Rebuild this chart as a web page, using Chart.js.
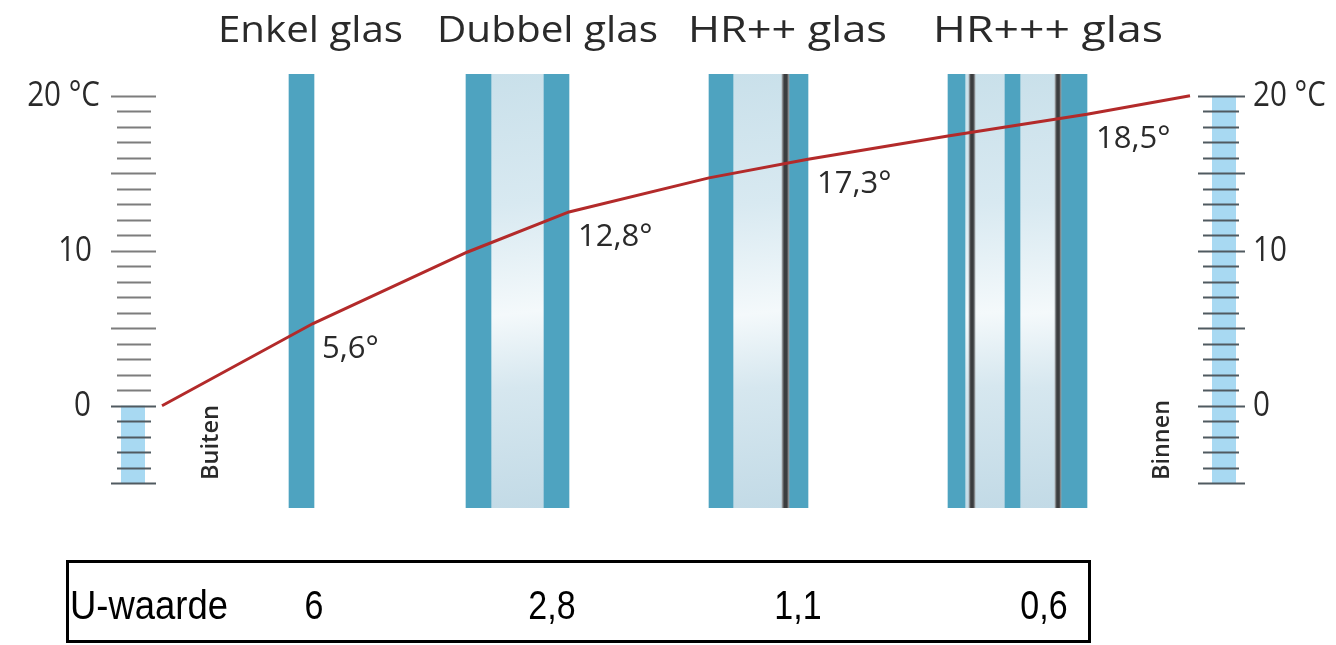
<!DOCTYPE html>
<html>
<head>
<meta charset="utf-8">
<title>Temperatuurverloop door glas</title>
<script src="https://cdn.jsdelivr.net/npm/chart.js@4.4.1/dist/chart.umd.min.js"></script>
<style>
  html, body { margin: 0; padding: 0; background: #fff; overflow: hidden; }
  canvas { display: block; }
</style>
</head>
<body>
<canvas id="glasChart" width="1336" height="645"></canvas>
<script>
/* -------------------------------------------------------
   DATA
------------------------------------------------------- */
const glassTypes   = ['Enkel glas', 'Dubbel glas', 'HR++ glas', 'HR+++ glas'];
const uValues      = ['6', '2,8', '1,1', '0,6'];
const surfaceTemps = [5.6, 12.8, 17.3, 18.5];      // binnenoppervlak, °C
const tempTicks    = [20, 10, 0];

// doorsnede: positie langs de tekening (x-eenheden)
const glassPanes = [[289, 314], [466, 491], [544, 569], [709, 733], [789, 808],
                    [948, 965], [1005, 1020], [1061, 1087]];
const cavities   = [[491, 544], [733, 783], [965, 1005], [1020, 1061]];
const coatings   = [[782, 789], [969, 975], [1055, 1061]];

// temperatuurverloop (buiten 0 °C -> binnen 20 °C)
const curveX = [162, 313, 467, 569, 709, 808, 948, 1087, 1190];
const curveT = [0, 5.3, 9.9, 12.5, 14.7, 15.9, 17.4, 18.8, 20];
const labelledPoints = [1, 3, 5, 7];

/* -------------------------------------------------------
   LAYOUT (text boxes: [left, width, baseline])
------------------------------------------------------- */
const titleBoxes = [[218, 185, 42], [437, 221, 42], [688, 199, 42], [933, 230, 42]];
const uCenters   = [314, 552, 798, 1044];
const leftLabelRight = [100, 92, 91];

const GLASS   = '#4ea3c0';
const THERMO  = '#a8d9f2';
const RED     = '#b32a2a';
const FONT    = "'Open Sans', 'Noto Sans', sans-serif";

function fitText(ctx, text, x, y, font, width, align) {
  ctx.save();
  ctx.font = font;
  ctx.textAlign = align || 'left';
  ctx.textBaseline = 'alphabetic';
  const s = width ? width / ctx.measureText(text).width : 1;
  ctx.translate(x, y);
  ctx.scale(s, 1);
  ctx.fillText(text, 0, 0);
  ctx.restore();
}

function paneData(list) {
  return list.map(([a, b]) => ({ x: [a, b], y: 'doorsnede' }));
}

function cavityFill(c) {
  const chart = c.chart, area = chart.chartArea;
  if (!area || !c.raw) return '#d3e6ee';
  const x = chart.scales.x;
  const x0 = x.getPixelForValue(c.raw.x[0]), x1 = x.getPixelForValue(c.raw.x[1]);
  const g = chart.ctx.createLinearGradient(x0, area.top, x1, area.bottom);
  g.addColorStop(0,    '#c9e0ea');
  g.addColorStop(0.3,  '#d8e9f1');
  g.addColorStop(0.55, '#f4f9fb');
  g.addColorStop(0.72, '#d6e7ef');
  g.addColorStop(1,    '#c2dae6');
  return g;
}

function coatingFill(c) {
  const chart = c.chart;
  if (!chart.chartArea || !c.raw) return '#444';
  const x = chart.scales.x;
  const x0 = x.getPixelForValue(c.raw.x[0]), x1 = x.getPixelForValue(c.raw.x[1]);
  const g = chart.ctx.createLinearGradient(x0, 0, x1, 0);
  g.addColorStop(0,   '#a3a7aa');
  g.addColorStop(0.3, '#3b3d3f');
  g.addColorStop(0.7, '#3b3d3f');
  g.addColorStop(1,   '#9ea3a6');
  return g;
}

/* -------------------------------------------------------
   PLUGIN: thermometers, labels, table
------------------------------------------------------- */
const decorations = {
  id: 'decorations',
  afterDatasetsDraw(chart) {
    const ctx = chart.ctx;
    const y = chart.scales.y, x = chart.scales.x;

    // thermometer scales
    function thermo(major, minor, fill, from, to, tickColor) {
      ctx.save();
      ctx.fillStyle = THERMO;
      ctx.fillRect(fill[0], y.getPixelForValue(to), fill[1] - fill[0],
                   y.getPixelForValue(from) - y.getPixelForValue(to));
      ctx.lineWidth = 2;
      for (let v = -5; v <= 20; v++) {
        const py = Math.round(y.getPixelForValue(v)) + 0.5;
        const r = v % 5 === 0 ? major : minor;
        ctx.strokeStyle = (v >= from && v <= to) ? '#505a60' : tickColor;
        ctx.beginPath();
        ctx.moveTo(r[0], py);
        ctx.lineTo(r[1], py);
        ctx.stroke();
      }
      ctx.restore();
    }
    thermo([111, 156], [117, 151], [121, 145], -5, 0, '#7d7d7d');
    thermo([1198, 1245], [1203, 1239], [1212, 1236], -5, 20, '#505a60');

    ctx.fillStyle = '#2a2a2a';
    tempTicks.forEach((t, i) => {
      const txt = t === 20 ? '20 °C' : String(t);
      const py = y.getPixelForValue(t) + 10;
      ctx.save();
      ctx.font = '34px ' + FONT;
      ctx.textAlign = 'right';
      ctx.translate(leftLabelRight[i], py);
      ctx.scale(0.87, 1);
      ctx.fillText(txt, 0, 0);
      ctx.restore();
      ctx.save();
      ctx.font = '34px ' + FONT;
      ctx.textAlign = 'left';
      ctx.translate(1253, py);
      ctx.scale(0.87, 1);
      ctx.fillText(txt, 0, 0);
      ctx.restore();
    });

    // titles
    glassTypes.forEach((t, i) => {
      const b = titleBoxes[i];
      fitText(ctx, t, b[0], b[2], '37px ' + FONT, b[1], 'left');
    });

    // surface temperatures
    labelledPoints.forEach((idx, i) => {
      const px = x.getPixelForValue(curveX[idx]) + 9;
      const py = y.getPixelForValue(curveT[idx]) + 34;
      const txt = surfaceTemps[i].toFixed(1).replace('.', ',') + '°';
      fitText(ctx, txt, px, py, '31px ' + FONT, null, 'left');
    });

    // Buiten / Binnen
    function vertical(text, bx, by, width) {
      ctx.save();
      ctx.translate(bx, by);
      ctx.rotate(-Math.PI / 2);
      fitText(ctx, text, 0, 0, '600 24px ' + FONT, width, 'left');
      ctx.restore();
    }
    vertical('Buiten', 218, 480, 75);
    vertical('Binnen', 1169, 480, 80);

    // U-waarde table
    ctx.save();
    ctx.strokeStyle = '#000';
    ctx.lineWidth = 3;
    ctx.strokeRect(67.5, 561.5, 1022, 80);
    ctx.fillStyle = '#000';
    fitText(ctx, 'U-waarde', 70, 619, "40px 'Liberation Sans', sans-serif", 158, 'left');
    uValues.forEach((u, i) => {
      ctx.save();
      ctx.font = "40px 'Liberation Sans', sans-serif";
      ctx.textAlign = 'center';
      ctx.translate(uCenters[i], 619);
      ctx.scale(0.85, 1);
      ctx.fillText(u, 0, 0);
      ctx.restore();
    });
    ctx.restore();
  }
};

/* -------------------------------------------------------
   CHART
------------------------------------------------------- */
const paneCommon = {
  indexAxis: 'y',
  xAxisID: 'x',
  yAxisID: 'yPane',
  grouped: false,
  barPercentage: 1,
  categoryPercentage: 1,
  borderWidth: 0
};

new Chart(document.getElementById('glasChart'), {
  type: 'bar',
  data: {
    datasets: [
      {
        type: 'line',
        label: 'Temperatuur',
        data: curveX.map((cx, i) => ({ x: cx, y: curveT[i] })),
        xAxisID: 'x',
        yAxisID: 'y',
        borderColor: RED,
        borderWidth: 3,
        pointRadius: 0,
        tension: 0,
        order: 0
      },
      Object.assign({ label: 'Coating', data: paneData(coatings),  backgroundColor: coatingFill, order: 1 }, paneCommon),
      Object.assign({ label: 'Glas',    data: paneData(glassPanes), backgroundColor: GLASS,      order: 2 }, paneCommon),
      Object.assign({ label: 'Spouw',   data: paneData(cavities),   backgroundColor: cavityFill, order: 3 }, paneCommon)
    ]
  },
  options: {
    responsive: false,
    animation: false,
    devicePixelRatio: 1,
    layout: { padding: { top: 74, bottom: 137, left: 0, right: 0 } },
    plugins: {
      legend: { display: false },
      tooltip: { enabled: false }
    },
    scales: {
      x:     { type: 'linear', min: 0, max: 1336, offset: false, display: false },
      y:     { type: 'linear', min: -6.6, max: 21.4, offset: false, display: false },
      yPane: { type: 'category', axis: 'y', labels: ['doorsnede'], offset: true, display: false }
    }
  },
  plugins: [decorations]
});
</script>
</body>
</html>
